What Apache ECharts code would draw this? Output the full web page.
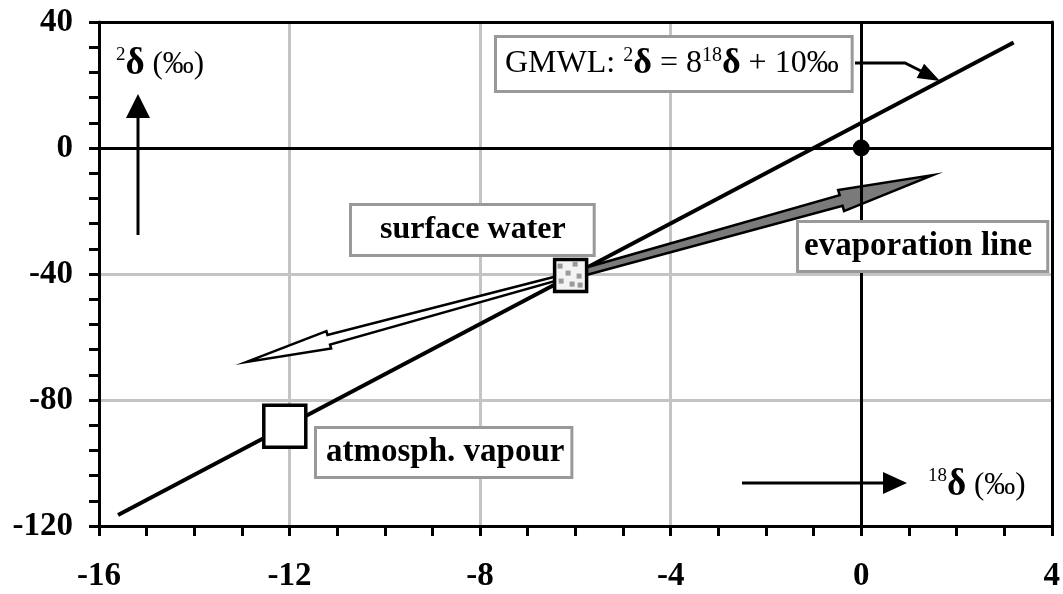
<!DOCTYPE html>
<html>
<head>
<meta charset="utf-8">
<script src="https://cdn.jsdelivr.net/npm/echarts@6/dist/echarts.min.js"></script>
<style>
  html, body { margin: 0; padding: 0; background: #fff; }
  #chart { width: 1063px; height: 594px; }
</style>
</head>
<body>
<div id="chart"></div>
<script>
// ---- data ----
const xTicks = [-16, -12, -8, -4, 0, 4];
const yTicks = [-120, -80, -40, 0, 40];

// global meteoric water line, two end points
const gmwlLine = [[-15.6, -116.5], [3.2, 33.5]];

// samples
const surfaceWater = [-6.1, -40.5];
const atmosVapour = [-12.1, -88.3];
const origin = [0, 0];

// arrows: [fromX, fromY, toX, toY]
const evapArrow = [-6.1, -40.5, 1.5, -8.6];
const backArrow = [-6.3, -41.0, -12.9, -67.9];

const SERIF = '"Liberation Serif", "DejaVu Serif", serif';

// arrow polygon in pixels, from data end points
function arrowItem(opts) {
    return function (params, api) {
        const p0 = api.coord([api.value(0), api.value(1)]);
        const p1 = api.coord([api.value(2), api.value(3)]);
        const dx = p1[0] - p0[0], dy = p1[1] - p0[1];
        const len = Math.sqrt(dx * dx + dy * dy);
        const ux = dx / len, uy = dy / len;
        const nx = -uy, ny = ux;
        const hb = [p1[0] - ux * opts.head, p1[1] - uy * opts.head];
        const pts = [
            [p0[0] + nx * opts.w0, p0[1] + ny * opts.w0],
            [hb[0] + nx * opts.w1, hb[1] + ny * opts.w1],
            [hb[0] + nx * opts.hw, hb[1] + ny * opts.hw],
            p1,
            [hb[0] - nx * opts.hw, hb[1] - ny * opts.hw],
            [hb[0] - nx * opts.w1, hb[1] - ny * opts.w1],
            [p0[0] - nx * opts.w0, p0[1] - ny * opts.w0]
        ];
        return {
            type: 'polygon',
            shape: { points: pts },
            style: { fill: opts.fill, stroke: '#000', lineWidth: 2.5, lineJoin: 'miter' }
        };
    };
}

// speckled square for the surface water sample
const speckles = [[-11, -10], [4, -12], [-3, -3], [8, 0], [-10, 5], [1, 8], [9, 9]];
function speckledSquare(params, api) {
    const c = api.coord([api.value(0), api.value(1)]);
    const half = 16;
    const kids = [{
        type: 'rect',
        shape: { x: c[0] - half, y: c[1] - half, width: half * 2, height: half * 2 },
        style: { fill: '#f3f3f3', stroke: '#000', lineWidth: 3.5 }
    }];
    speckles.forEach(s => kids.push({
        type: 'rect',
        shape: { x: c[0] + s[0] - 2, y: c[1] + s[1] - 2, width: 5, height: 5 },
        style: { fill: '#999' }
    }));
    return { type: 'group', children: kids };
}

const boxStyle = {
    backgroundColor: '#fff',
    borderColor: '#999',
    borderWidth: 3
};

const capRich = {
    s: { fontFamily: SERIF, fontSize: 19, verticalAlign: 'top', lineHeight: 30 },
    d: { fontFamily: SERIF, fontSize: 37, fontWeight: 'bold' }
};

const chart = echarts.init(document.getElementById('chart'));
chart.setOption({
    animation: false,
    backgroundColor: '#fff',
    grid: { left: 99, right: 9, top: 22, bottom: 68, show: false },
    xAxis: [{
        type: 'value', min: xTicks[0], max: xTicks[xTicks.length - 1], interval: 4,
        axisLine: { onZero: false, lineStyle: { color: '#000', width: 3 } },
        axisTick: { show: true, length: 10, lineStyle: { color: '#000', width: 3 } },
        minorTick: { show: true, splitNumber: 4, length: 10, lineStyle: { color: '#000', width: 3 } },
        splitLine: { show: true, showMinLine: false, showMaxLine: false, lineStyle: { color: '#c4c4c4', width: 3 } },
        axisLabel: { margin: 34, color: '#000', fontFamily: SERIF, fontWeight: 'bold', fontSize: 33 }
    }, {
        type: 'value', position: 'top', min: xTicks[0], max: xTicks[xTicks.length - 1], z: 5,
        axisLine: { show: true, onZero: false, lineStyle: { color: '#000', width: 3 } },
        axisTick: { show: false }, axisLabel: { show: false }, splitLine: { show: false }
    }],
    yAxis: [{
        type: 'value', min: yTicks[0], max: yTicks[yTicks.length - 1], interval: 40,
        axisLine: { show: true, onZero: false, lineStyle: { color: '#000', width: 3 } },
        axisTick: { show: true, length: 10, lineStyle: { color: '#000', width: 3 } },
        minorTick: { show: true, splitNumber: 5, length: 10, lineStyle: { color: '#000', width: 3 } },
        splitLine: { show: true, showMinLine: false, showMaxLine: false, lineStyle: { color: '#c4c4c4', width: 3 } },
        axisLabel: { margin: 26, color: '#000', fontFamily: SERIF, fontWeight: 'bold', fontSize: 33 }
    }, {
        type: 'value', position: 'right', min: yTicks[0], max: yTicks[yTicks.length - 1], z: 5,
        axisLine: { show: true, onZero: false, lineStyle: { color: '#000', width: 3 } },
        axisTick: { show: false }, axisLabel: { show: false }, splitLine: { show: false }
    }],
    series: [
        {
            // zero lines
            type: 'line', data: [], z: 1,
            markLine: {
                silent: true, symbol: 'none', label: { show: false },
                lineStyle: { color: '#000', width: 3, type: 'solid' },
                data: [{ xAxis: 0 }, { yAxis: 0 }]
            }
        },
        {
            type: 'line', data: gmwlLine, z: 2, symbol: 'none',
            lineStyle: { color: '#000', width: 4 }
        },
        {
            type: 'custom', z: 3, data: [evapArrow],
            renderItem: arrowItem({ w0: 3.5, w1: 5.5, hw: 11, head: 95, fill: '#7a7a7a' })
        },
        {
            type: 'custom', z: 3, data: [backArrow],
            renderItem: arrowItem({ w0: 2, w1: 5, hw: 9, head: 85, fill: '#fff' })
        },
        {
            type: 'scatter', z: 4, data: [atmosVapour], symbol: 'rect', symbolSize: 42,
            itemStyle: { color: '#fff', borderColor: '#000', borderWidth: 3.5, opacity: 1 }
        },
        {
            type: 'custom', z: 4, data: [surfaceWater],
            renderItem: speckledSquare
        },
        {
            type: 'scatter', z: 4, data: [origin], symbol: 'circle', symbolSize: 17,
            itemStyle: { color: '#000', opacity: 1 }
        }
    ],
    graphic: [
        // GMWL box
        {
            type: 'text', x: 497, y: 38, z: 10,
            style: Object.assign({
                text: 'GMWL: {s|2}{d|δ} = 8{s|18}{d|δ} + 10‰',
                font: '32px ' + SERIF, fill: '#000',
                padding: [8, 12, 8, 8],
                rich: {
                    s: { fontFamily: SERIF, fontSize: 20, verticalAlign: 'top', lineHeight: 32 },
                    d: { fontFamily: SERIF, fontSize: 36, fontWeight: 'bold' }
                }
            }, boxStyle)
        },
        // leader line to GMWL
        {
            type: 'polyline', z: 10,
            shape: { points: [[855, 63], [905, 63], [921, 71]] },
            style: { stroke: '#000', lineWidth: 3, fill: null }
        },
        {
            type: 'polygon', z: 10,
            shape: { points: [[940, 81], [916.7, 78], [924.1, 63.8]] },
            style: { fill: '#000' }
        },
        {
            type: 'text', x: 352, y: 206, z: 10,
            style: Object.assign({
                text: 'surface water', font: 'bold 32px ' + SERIF, fill: '#000',
                padding: [8, 27, 8, 28]
            }, boxStyle)
        },
        {
            type: 'text', x: 799, y: 223, z: 10,
            style: Object.assign({
                text: 'evaporation line', font: 'bold 33px ' + SERIF, fill: '#000',
                padding: [7, 14, 7, 5]
            }, boxStyle)
        },
        {
            type: 'text', x: 317, y: 429, z: 10,
            style: Object.assign({
                text: 'atmosph. vapour', font: 'bold 33px ' + SERIF, fill: '#000',
                padding: [7, 6, 7, 9]
            }, boxStyle)
        },
        // y axis caption with arrow
        {
            type: 'text', x: 116, y: 46, z: 10,
            style: {
                text: '{s|2}{d|δ} (‰)', font: '31px ' + SERIF, fill: '#000',
                rich: capRich
            }
        },
        {
            type: 'line', z: 10,
            shape: { x1: 138, y1: 235, x2: 138, y2: 112 },
            style: { stroke: '#000', lineWidth: 3 }
        },
        {
            type: 'polygon', z: 10,
            shape: { points: [[138, 94], [126, 118], [150, 118]] },
            style: { fill: '#000' }
        },
        // x axis caption with arrow
        {
            type: 'text', x: 928, y: 467, z: 10,
            style: {
                text: '{s|18}{d|δ} (‰)', font: '31px ' + SERIF, fill: '#000',
                rich: capRich
            }
        },
        {
            type: 'line', z: 10,
            shape: { x1: 742, y1: 483, x2: 888, y2: 483 },
            style: { stroke: '#000', lineWidth: 3 }
        },
        {
            type: 'polygon', z: 10,
            shape: { points: [[907, 483], [883, 472], [883, 494]] },
            style: { fill: '#000' }
        }
    ]
});
</script>
</body>
</html>
